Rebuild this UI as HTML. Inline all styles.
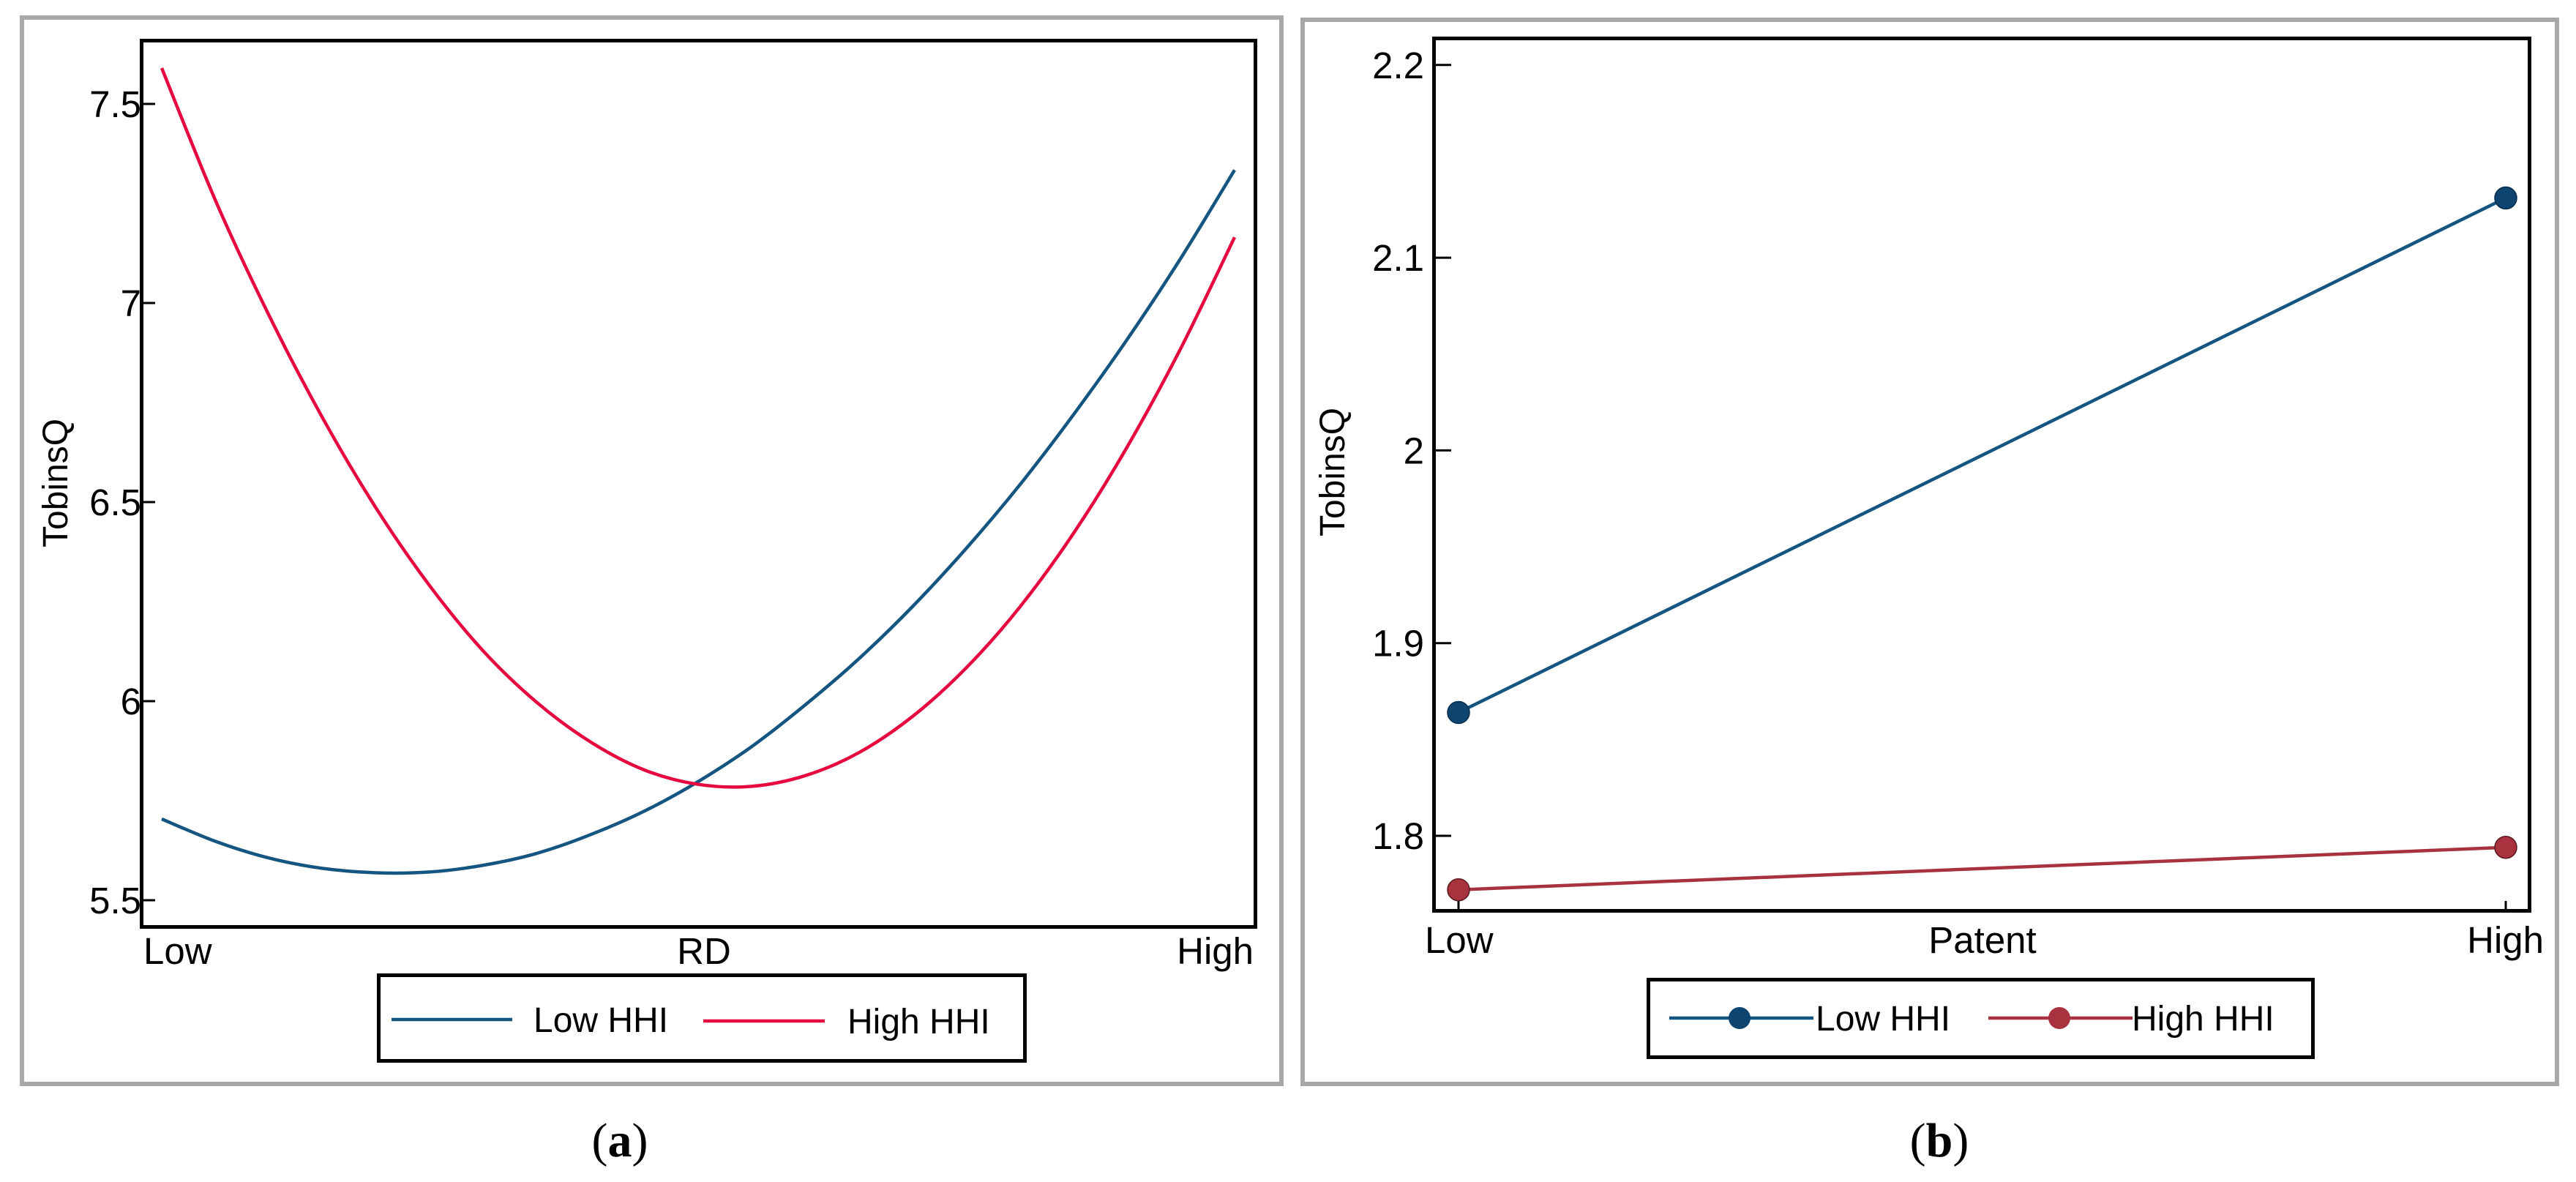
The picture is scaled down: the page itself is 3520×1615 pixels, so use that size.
<!DOCTYPE html>
<html><head><meta charset="utf-8"><style>
html,body{margin:0;padding:0;background:#fff;}
svg{display:block;font-family:"Liberation Sans",Arial,sans-serif;}
</style></head><body>
<svg id="fig" width="3520" height="1615" viewBox="0 0 3520 1615" xmlns="http://www.w3.org/2000/svg">
<rect x="30" y="24" width="1721" height="1457" fill="none" stroke="#a8a8a8" stroke-width="6"/>
<rect x="1780" y="27" width="1714" height="1454" fill="none" stroke="#a8a8a8" stroke-width="6"/>
<g id="pa"></g>
<g id="pb"></g>
<text x="847" y="1580" text-anchor="middle" font-family="Liberation Serif,serif" font-size="66">(<tspan font-weight="bold">a</tspan>)</text>
<text x="2650" y="1580" text-anchor="middle" font-family="Liberation Serif,serif" font-size="66">(<tspan font-weight="bold">b</tspan>)</text>
</svg>
<script>
// Panel A data
const rdT = [0,0.05,0.1,0.15,0.2,0.25,0.3,0.35,0.4,0.45,0.5,0.55,0.6,0.65,0.7,0.75,0.8,0.85,0.9,0.95,1];
const lowHHI_A = [5.704,5.648,5.606,5.580,5.569,5.571,5.588,5.618,5.665,5.724,5.798,5.886,5.991,6.107,6.238,6.384,6.544,6.720,6.909,7.113,7.334];
const highHHI_A = [7.59,7.258,6.969,6.711,6.484,6.289,6.125,5.996,5.897,5.827,5.791,5.786,5.813,5.871,5.962,6.084,6.237,6.422,6.639,6.887,7.165];
const yTicksA = [5.5,6,6.5,7,7.5];
const yTickLabelsA = ["5.5","6","6.5","7","7.5"];
// Panel B data
const patentCats = ["Low","High"];
const lowHHI_B = [1.864,2.131];
const highHHI_B = [1.772,1.794];
const yTicksB = [1.8,1.9,2.0,2.1,2.2];
const yTickLabelsB = ["1.8","1.9","2","2.1","2.2"];

const NS="http://www.w3.org/2000/svg";
function mk(parent,tag,attrs,text){const e=document.createElementNS(NS,tag);for(const k in attrs)e.setAttribute(k,attrs[k]);if(text!==undefined)e.textContent=text;parent.appendChild(e);return e;}

// ---- Panel A ----
const pa=document.getElementById('pa');
const xA=t=>221+t*(1687-221);
const yA=v=>142+(7.5-v)*544;
let f=mk(pa,'rect',{x:193.5,y:55.5,width:1522,height:1211,fill:'none',stroke:'#000','stroke-width':5});


yTicksA.forEach((v,i)=>{
  let t=mk(pa,'line',{x1:196,x2:212,y1:yA(v),y2:yA(v),stroke:'#000','stroke-width':3});
  
  
  let l=mk(pa,'text',{x:193,y:yA(v)+18,'text-anchor':'end','font-size':51},yTickLabelsA[i]);
  
  
});
function smooth(parent,xs,ys,xf,yf,col,w,name){
  const P=xs.map((x,i)=>[xf(x),yf(ys[i])]);
  let d='M'+P[0][0].toFixed(1)+','+P[0][1].toFixed(1);
  for(let i=0;i<P.length-1;i++){
    const p0=P[i-1]||P[i],p1=P[i],p2=P[i+1],p3=P[i+2]||P[i+1];
    const c1=[p1[0]+(p2[0]-p0[0])/6,p1[1]+(p2[1]-p0[1])/6];
    const c2=[p2[0]-(p3[0]-p1[0])/6,p2[1]-(p3[1]-p1[1])/6];
    d+=' C'+c1.map(v=>v.toFixed(1)).join(',')+' '+c2.map(v=>v.toFixed(1)).join(',')+' '+p2.map(v=>v.toFixed(1)).join(',');
  }
  const e=mk(parent,'path',{d:d,fill:'none',stroke:col,'stroke-width':w,'stroke-linejoin':'round'});
  
  
  return e;
}
function poly(parent,xs,ys,xf,yf,col,w,name){
  const p=xs.map((x,i)=>xf(x).toFixed(1)+','+yf(ys[i]).toFixed(1)).join(' ');
  const e=mk(parent,'polyline',{points:p,fill:'none',stroke:col,'stroke-width':w,'stroke-linejoin':'round'});
  
  
  return e;
}
smooth(pa,rdT,lowHHI_A,xA,yA,'#155581',4.5,'low-hhi-curve');
smooth(pa,rdT,highHHI_A,xA,yA,'#e5093f',4.5,'high-hhi-curve');
let t1=mk(pa,'text',{x:196,y:1317,'font-size':51},'Low');
let t2=mk(pa,'text',{x:962,y:1317,'text-anchor':'middle','font-size':51},'RD');
let t3=mk(pa,'text',{x:1713,y:1317,'text-anchor':'end','font-size':51},'High');
let ya=mk(pa,'text',{x:0,y:0,'text-anchor':'middle','font-size':48,transform:'translate(92,660) rotate(-90)'},'TobinsQ');
let lg=mk(pa,'g',{});
mk(lg,'rect',{x:517.5,y:1332.5,width:883,height:117,fill:'#fff',stroke:'#000','stroke-width':5});
let e1=mk(lg,'line',{x1:535,x2:700,y1:1393,y2:1393,stroke:'#155581','stroke-width':4.5});
mk(lg,'text',{x:729,y:1410,'font-size':48},'Low HHI');
let e2=mk(lg,'line',{x1:961,x2:1127,y1:1395,y2:1395,stroke:'#e5093f','stroke-width':4.5});
mk(lg,'text',{x:1158,y:1412,'font-size':48},'High HHI');

// ---- Panel B ----
const pb=document.getElementById('pb');
const xB=i=>1993+i*(3424-1993);
const yB=v=>1142-(v-1.8)*2633;
let fb=mk(pb,'rect',{x:1959.5,y:52.5,width:1497,height:1192,fill:'none',stroke:'#000','stroke-width':5});


yTicksB.forEach((v,i)=>{
  let t=mk(pb,'line',{x1:1962,x2:1983,y1:yB(v),y2:yB(v),stroke:'#000','stroke-width':3});
  
  
  let l=mk(pb,'text',{x:1946,y:yB(v)+18,'text-anchor':'end','font-size':51},yTickLabelsB[i]);
  
  
});
patentCats.forEach((c,i)=>{
  let t=mk(pb,'line',{x1:xB(i),x2:xB(i),y1:1231,y2:1245,stroke:'#000','stroke-width':3});
  
  
  let l=mk(pb,'text',{x:i===0?1947:3476,y:1302,'text-anchor':i===0?'start':'end','font-size':51},c);
  
  
});
const idx=[0,1];
poly(pb,idx,lowHHI_B,xB,yB,'#155581',4.5,'low-hhi-line');
poly(pb,idx,highHHI_B,xB,yB,'#a8323e',4.5,'high-hhi-line');
idx.forEach(i=>{
  let m=mk(pb,'circle',{cx:xB(i),cy:yB(lowHHI_B[i]),r:15,fill:'#0d4470',stroke:'#072c4a','stroke-width':1.5});
  
  
  let n=mk(pb,'circle',{cx:xB(i),cy:yB(highHHI_B[i]),r:15,fill:'#a8323e',stroke:'#5a1a20','stroke-width':1.5});
  
  
});
let pt=mk(pb,'text',{x:2709,y:1302,'text-anchor':'middle','font-size':51},'Patent');
let yb=mk(pb,'text',{x:0,y:0,'text-anchor':'middle','font-size':48,transform:'translate(1837,645) rotate(-90)'},'TobinsQ');
let lb=mk(pb,'g',{});
mk(lb,'rect',{x:2252.5,y:1338.5,width:908,height:106,fill:'#fff',stroke:'#000','stroke-width':5});
let b1=mk(lb,'line',{x1:2281,x2:2478,y1:1391,y2:1391,stroke:'#155581','stroke-width':4.5});
mk(lb,'circle',{cx:2377,cy:1391,r:15,fill:'#0d4470'});
mk(lb,'text',{x:2481,y:1408,'font-size':48},'Low HHI');
let b2=mk(lb,'line',{x1:2717,x2:2914,y1:1391,y2:1391,stroke:'#a8323e','stroke-width':4.5});
mk(lb,'circle',{cx:2814,cy:1391,r:15,fill:'#a8323e'});
mk(lb,'text',{x:2913,y:1408,'font-size':48},'High HHI');
</script>
</body></html>
